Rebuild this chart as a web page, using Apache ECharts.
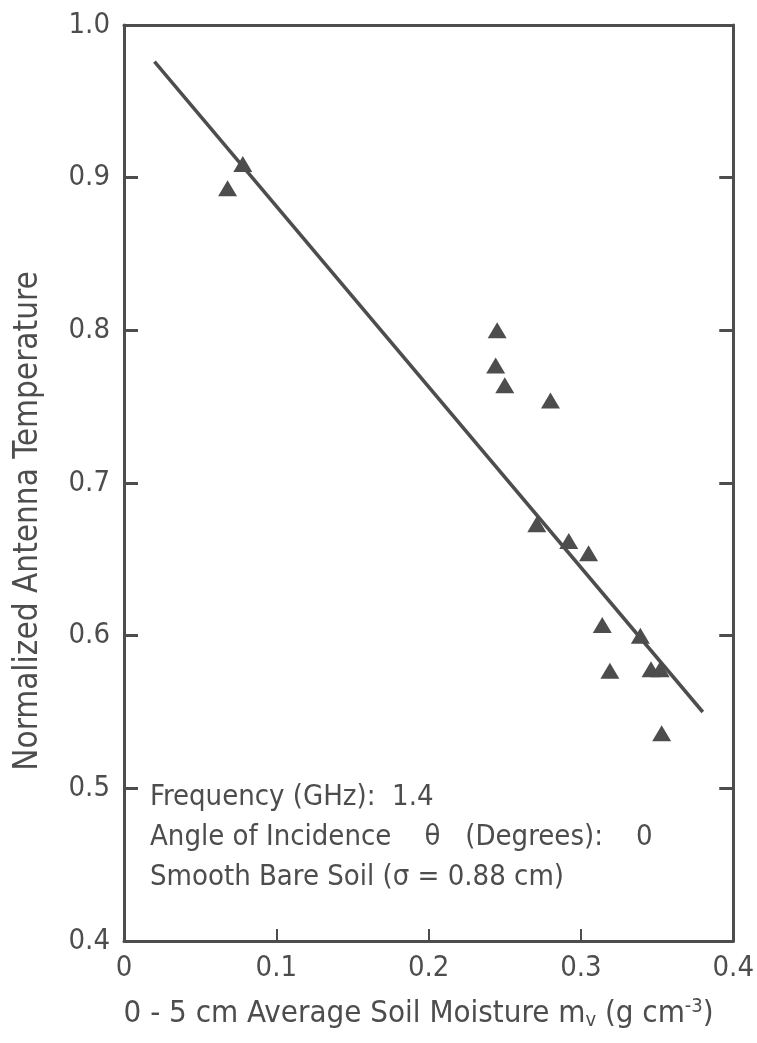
<!DOCTYPE html>
<html>
<head>
<meta charset="utf-8">
<script src="https://cdn.jsdelivr.net/npm/echarts@6/dist/echarts.min.js"></script>
<style>html,body{margin:0;padding:0;background:#fff;}#c{width:757px;height:1043px;}</style>
</head>
<body>
<div id="c"></div>
<script>
// Data
const moisture = [0.068, 0.078, 0.245, 0.244, 0.250, 0.280, 0.271, 0.292, 0.305, 0.314, 0.339, 0.319, 0.346, 0.352, 0.353];
const antennaTemp = [0.893, 0.909, 0.800, 0.777, 0.764, 0.754, 0.673, 0.662, 0.654, 0.607, 0.600, 0.577, 0.578, 0.578, 0.536];
const fitX = [0.020, 0.380];
const fitY = [0.976, 0.550];
const xTickLabels = ['0', '0.1', '0.2', '0.3', '0.4'];
const yTickLabels = ['0.4', '0.5', '0.6', '0.7', '0.8', '0.9', '1.0'];
const yTitle = 'Normalized Antenna Temperature';
const notes = ['Frequency (GHz):  1.4', 'Angle of Incidence    θ   (Degrees):    0', 'Smooth Bare Soil (σ = 0.88 cm)'];

const INK = '#4d4d4d';
const FONT = "'DejaVu Sans Condensed', 'Liberation Sans Narrow', sans-serif";

const chart = echarts.init(document.getElementById('c'), null, {renderer: 'canvas'});
const xFmt = v => { const i = Math.round(v / 0.1); return xTickLabels[i] !== undefined ? xTickLabels[i] : ''; };
const yFmt = v => { const i = Math.round((v - 0.4) / 0.1); return yTickLabels[i] !== undefined ? yTickLabels[i] : ''; };

chart.setOption({
  animation: false,
  backgroundColor: '#fff',
  grid: {left: 124, right: 13, top: 25, bottom: 102, containLabel: false},
  xAxis: [{
    type: 'value', min: 0, max: 0.4, interval: 0.1, position: 'bottom',
    axisLine: {show: true, onZero: false, lineStyle: {color: INK, width: 3}},
    axisTick: {show: true, inside: true, length: 12, lineStyle: {color: INK, width: 2}},
    splitLine: {show: false},
    axisLabel: {formatter: xFmt, color: INK, fontSize: 29, fontFamily: FONT, margin: 13},
    name: '0 - 5 cm Average Soil Moisture m{sub|v} (g cm{sup|-3})',
    nameLocation: 'middle', nameGap: 56,
    nameTextStyle: {color: INK, fontSize: 31, fontFamily: FONT, padding: [0, 20, 0, 0],
      rich: {sub: {fontSize: 20, verticalAlign: 'bottom', padding: [14, 0, 0, 0], color: INK, fontFamily: FONT},
             sup: {fontSize: 20, verticalAlign: 'top', padding: [0, 0, 12, 0], color: INK, fontFamily: FONT}}}
  }, {
    type: 'value', min: 0, max: 0.4, interval: 0.1, position: 'top',
    axisLine: {show: true, onZero: false, lineStyle: {color: INK, width: 3}},
    axisTick: {show: false}, axisLabel: {show: false}, splitLine: {show: false}
  }],
  yAxis: [{
    type: 'value', min: 0.4, max: 1.0, interval: 0.1, position: 'left',
    axisLine: {show: true, onZero: false, lineStyle: {color: INK, width: 3}},
    axisTick: {show: true, inside: true, length: 14, lineStyle: {color: INK, width: 3}},
    splitLine: {show: false},
    axisLabel: {formatter: yFmt, color: INK, fontSize: 29, fontFamily: FONT, margin: 14}
  }, {
    type: 'value', min: 0.4, max: 1.0, interval: 0.1, position: 'right',
    axisLine: {show: true, onZero: false, lineStyle: {color: INK, width: 3}},
    axisTick: {show: true, inside: true, length: 14, lineStyle: {color: INK, width: 3}},
    axisLabel: {show: false}, splitLine: {show: false}
  }],
  graphic: notes.map((t, i) => ({
    type: 'text', left: 150, top: 783 + i * 40,
    style: {text: t, fill: INK, font: '29px ' + FONT}
  })).concat([{
    type: 'text', x: 28, y: 521, rotation: Math.PI / 2,
    style: {text: yTitle, fill: INK, font: '33px ' + FONT, align: 'center', verticalAlign: 'middle'}
  }]),
  series: [{
    type: 'line', xAxisIndex: 0, yAxisIndex: 0,
    data: fitX.map((x, i) => [x, fitY[i]]),
    symbol: 'none', lineStyle: {color: INK, width: 3.5}, z: 2
  }, {
    type: 'scatter', xAxisIndex: 0, yAxisIndex: 0,
    data: moisture.map((x, i) => [x, antennaTemp[i]]),
    symbol: 'triangle', symbolSize: [19, 16],
    itemStyle: {color: INK, opacity: 1}, z: 3
  }]
});
</script>
</body>
</html>
